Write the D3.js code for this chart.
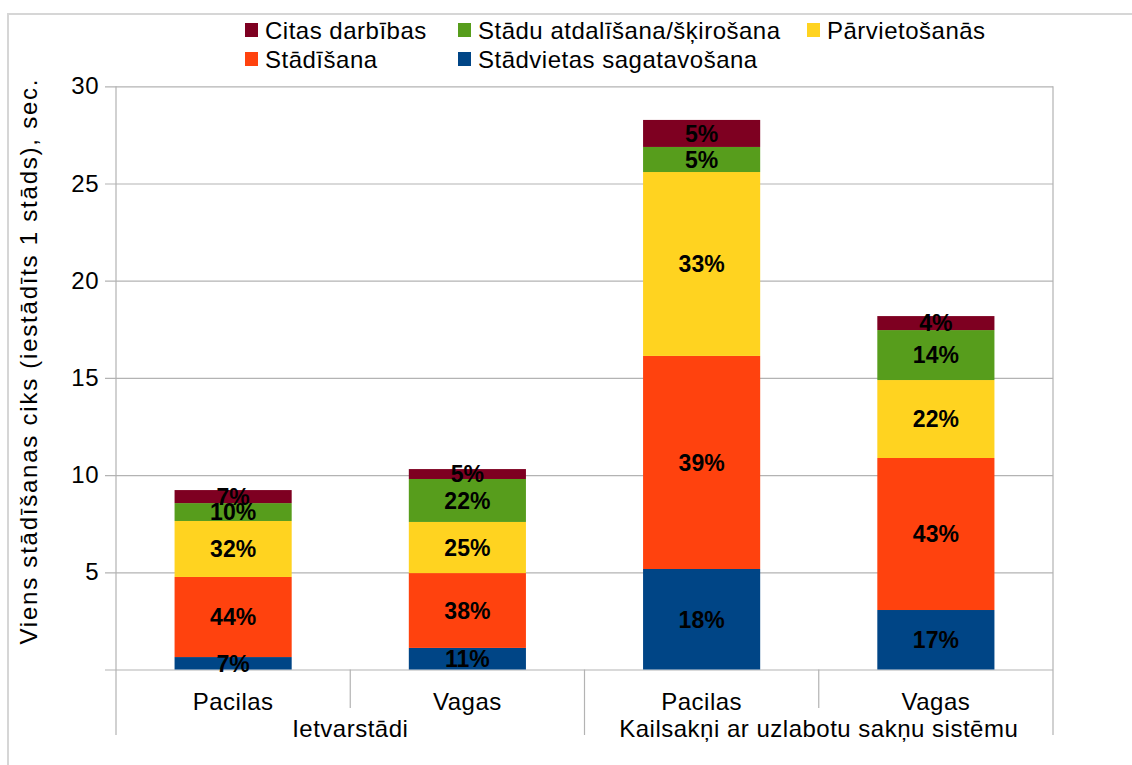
<!DOCTYPE html>
<html>
<head>
<meta charset="utf-8">
<script src="https://cdn.jsdelivr.net/npm/d3@7/dist/d3.min.js"></script>
<style>
  body { margin: 0; background: #fff; }
  svg { display: block; font-family: "Liberation Sans", Arial, sans-serif; }
</style>
</head>
<body>
<svg id="chart" width="1132" height="765"></svg>
<script>
// Data (seconds per planted seedling)
const groups = ['Ietvarstādi', 'Kailsakņi ar uzlabotu sakņu sistēmu'];
const methods = ['Pacilas', 'Vagas', 'Pacilas', 'Vagas'];
const seriesNames = ['Stādvietas sagatavošana', 'Stādīšana', 'Pārvietošanās', 'Stādu atdalīšana/šķirošana', 'Citas darbības'];
const seriesColors = ['#004586', '#ff420e', '#ffd320', '#579d1c', '#7e0021'];

const prepValues = [0.64, 1.11, 5.17, 3.06];
const plantValues = [4.12, 3.85, 10.96, 7.82];
const moveValues = [2.88, 2.63, 9.46, 4.01];
const sortValues = [0.92, 2.21, 1.29, 2.57];
const otherValues = [0.67, 0.51, 1.39, 0.72];

const prepLabels = ['7%', '11%', '18%', '17%'];
const plantLabels = ['44%', '38%', '39%', '43%'];
const moveLabels = ['32%', '25%', '33%', '22%'];
const sortLabels = ['10%', '22%', '5%', '14%'];
const otherLabels = ['7%', '5%', '5%', '4%'];

const yTicks = [5, 10, 15, 20, 25, 30];
const yTitle = 'Viens stādīšanas ciks (iestādīts 1 stāds), sec.';

// Build a table for d3.stack
const seriesValues = [prepValues, plantValues, moveValues, sortValues, otherValues];
const seriesLabels = [prepLabels, plantLabels, moveLabels, sortLabels, otherLabels];
const table = methods.map((m, i) => {
  const row = { idx: i };
  seriesNames.forEach((s, k) => { row[s] = seriesValues[k][i]; });
  return row;
});

const svg = d3.select('#chart');
const plotLeft = 116, plotRight = 1053, plotTop = 86.3, plotBottom = 669.5;
const gridColor = '#b3b3b3';
const textSpacing = '0.5px';

// outer frame
svg.append('rect')
  .attr('x', 8).attr('y', 14).attr('width', 1200).attr('height', 800)
  .attr('fill', 'none').attr('stroke', '#d6d6d6').attr('stroke-width', 2);

const x = d3.scaleBand()
  .domain(d3.range(methods.length))
  .range([plotLeft, plotRight])
  .paddingInner(0.5)
  .paddingOuter(0.25);

const y = d3.scaleLinear().domain([0, 30]).range([plotBottom, plotTop]);

// gridlines + ticks
const yAxis = d3.axisLeft(y)
  .tickValues([0].concat(yTicks))
  .tickSize(-(plotRight - plotLeft))
  .tickFormat(d => d === 0 ? '' : d);

const gy = svg.append('g')
  .attr('transform', 'translate(' + plotLeft + ',0)')
  .call(yAxis);
gy.select('.domain').remove();
gy.selectAll('.tick line').attr('stroke', gridColor).attr('x1', -11).attr('stroke-width', 1.2);
gy.selectAll('.tick text')
  .attr('x', -17)
  .attr('fill', '#000')
  .style('font-size', '24px')
  .style('letter-spacing', textSpacing)
  .style('font-family', '"Liberation Sans", Arial, sans-serif');

// plot frame lines (left, right) and category separators
svg.append('line').attr('x1', plotLeft).attr('x2', plotLeft).attr('y1', plotTop).attr('y2', 735)
  .attr('stroke', gridColor).attr('stroke-width', 1.2);
svg.append('line').attr('x1', plotRight).attr('x2', plotRight).attr('y1', plotTop).attr('y2', 735)
  .attr('stroke', gridColor).attr('stroke-width', 1.2);

const step = x.step();
// separator between groups
svg.append('line')
  .attr('x1', plotLeft + 2 * step).attr('x2', plotLeft + 2 * step)
  .attr('y1', plotBottom).attr('y2', 735)
  .attr('stroke', gridColor).attr('stroke-width', 1.2);
// separators inside groups
[1, 3].forEach(k => {
  svg.append('line')
    .attr('x1', plotLeft + k * step).attr('x2', plotLeft + k * step)
    .attr('y1', plotBottom).attr('y2', 708)
    .attr('stroke', gridColor).attr('stroke-width', 1.2);
});

// stacked bars
const stack = d3.stack().keys(seriesNames);
const layers = stack(table);

const layerG = svg.selectAll('g.layer')
  .data(layers)
  .enter()
  .append('g')
  .attr('class', 'layer')
  .attr('fill', (d, i) => seriesColors[i]);

layerG.selectAll('rect')
  .data(d => d)
  .enter()
  .append('rect')
  .attr('x', d => x(d.data.idx))
  .attr('width', x.bandwidth())
  .attr('y', d => y(d[1]))
  .attr('height', d => y(d[0]) - y(d[1]));

// percentage labels
layers.forEach((layer, k) => {
  svg.append('g').selectAll('text')
    .data(layer)
    .enter()
    .append('text')
    .attr('x', d => x(d.data.idx) + x.bandwidth() / 2)
    .attr('y', d => (y(d[0]) + y(d[1])) / 2)
    .attr('dy', '0.36em')
    .attr('text-anchor', 'middle')
    .style('font-size', '23px')
    .style('font-weight', 'bold')
    .attr('fill', '#000')
    .text(d => seriesLabels[k][d.data.idx]);
});

// x labels
svg.append('g').selectAll('text')
  .data(methods)
  .enter()
  .append('text')
  .attr('x', (d, i) => x(i) + x.bandwidth() / 2)
  .attr('y', 710)
  .attr('text-anchor', 'middle')
  .style('font-size', '24px')
  .style('letter-spacing', textSpacing)
  .attr('fill', '#000')
  .text(d => d);

svg.append('g').selectAll('text')
  .data(groups)
  .enter()
  .append('text')
  .attr('x', (d, i) => plotLeft + (2 * i + 1) * step)
  .attr('y', 737)
  .attr('text-anchor', 'middle')
  .style('font-size', '24px')
  .style('letter-spacing', textSpacing)
  .attr('fill', '#000')
  .text(d => d);

// y title
svg.append('text')
  .attr('transform', 'translate(37,362) rotate(-90)')
  .attr('text-anchor', 'middle')
  .attr('textLength', 565)
  .attr('lengthAdjust', 'spacing')
  .style('font-size', '24px')
  .attr('fill', '#000')
  .text(yTitle);

// legend (two rows, LibreOffice order)
const legendOrder = [4, 3, 2, 1, 0];
const legendCols = [245, 458, 807];
const legend = svg.append('g').selectAll('g')
  .data(legendOrder)
  .enter()
  .append('g')
  .attr('transform', (d, i) => 'translate(' + legendCols[i % 3] + ',' + (i < 3 ? 30 : 59) + ')');

legend.append('rect')
  .attr('x', 0).attr('y', -7).attr('width', 13).attr('height', 14)
  .attr('fill', d => seriesColors[d]);

legend.append('text')
  .attr('x', 20)
  .attr('dy', '0.36em')
  .style('font-size', '24px')
  .style('letter-spacing', textSpacing)
  .attr('fill', '#000')
  .text(d => seriesNames[d]);
</script>
</body>
</html>
